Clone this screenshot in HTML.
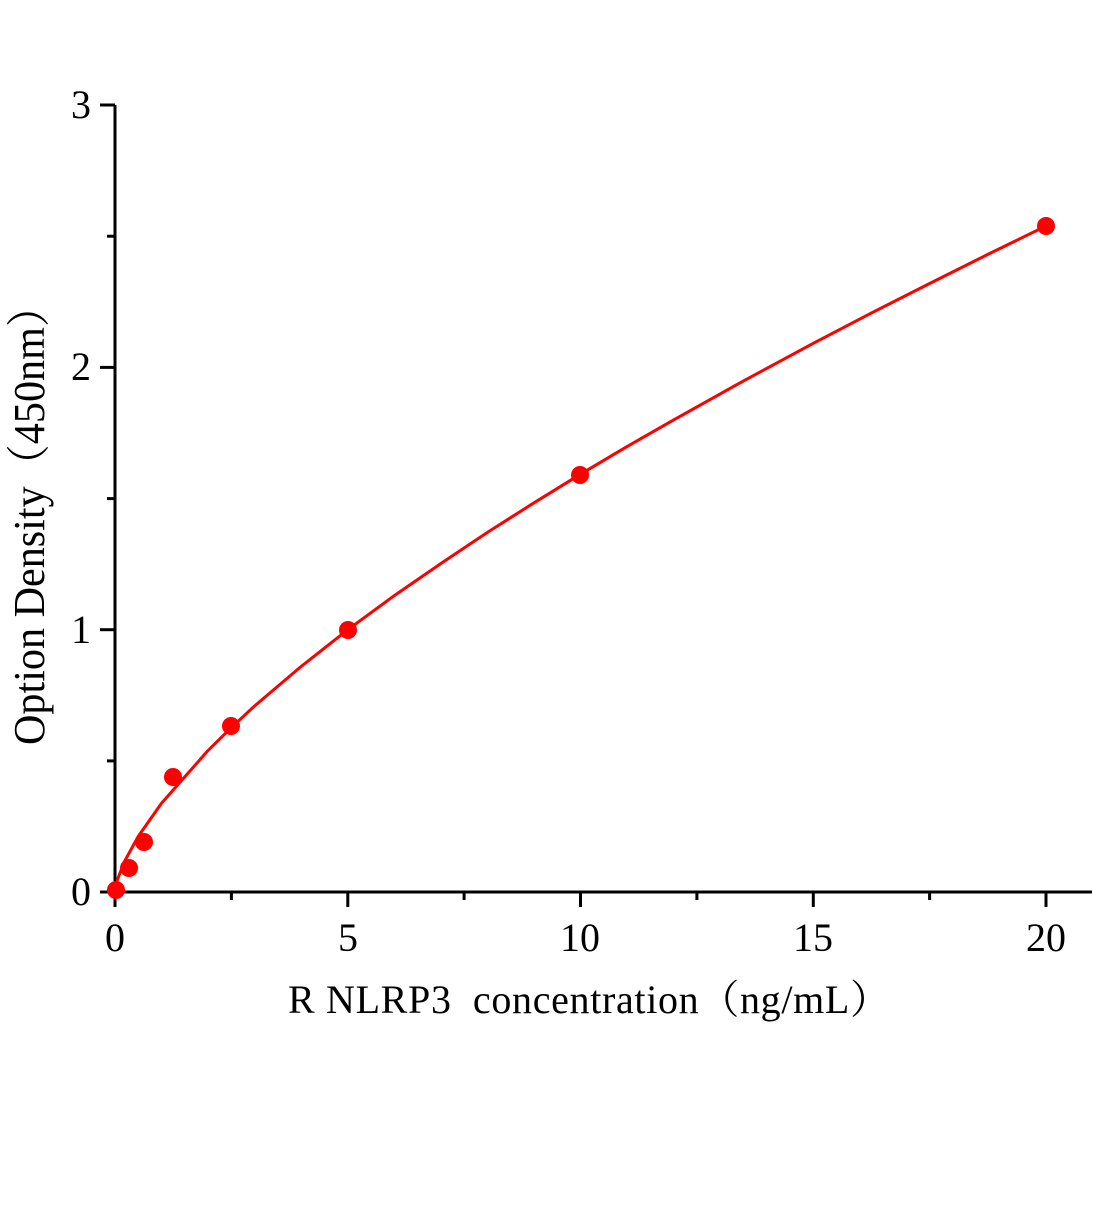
<!DOCTYPE html>
<html><head><meta charset="utf-8"><style>
html,body{margin:0;padding:0;background:#fff;}
svg text{font-family:"Liberation Serif","Noto Serif CJK SC",serif;fill:#000;white-space:pre;}
</style></head><body>
<svg width="1104" height="1200" viewBox="0 0 1104 1200" xmlns="http://www.w3.org/2000/svg">
<g stroke="#000" stroke-width="3" fill="none">
<line x1="115" y1="105" x2="115" y2="893.5"/>
<line x1="113.5" y1="892" x2="1092" y2="892"/>
<line x1="115" y1="892" x2="115" y2="907"/>
<line x1="347.8" y1="892" x2="347.8" y2="907"/>
<line x1="580.5" y1="892" x2="580.5" y2="907"/>
<line x1="813.3" y1="892" x2="813.3" y2="907"/>
<line x1="1046" y1="892" x2="1046" y2="907"/>
<line x1="231.4" y1="892" x2="231.4" y2="900"/>
<line x1="464.1" y1="892" x2="464.1" y2="900"/>
<line x1="696.9" y1="892" x2="696.9" y2="900"/>
<line x1="929.6" y1="892" x2="929.6" y2="900"/>
<line x1="100" y1="892" x2="115" y2="892"/>
<line x1="100" y1="629.7" x2="115" y2="629.7"/>
<line x1="100" y1="367.4" x2="115" y2="367.4"/>
<line x1="100" y1="105" x2="115" y2="105"/>
<line x1="107" y1="760.9" x2="115" y2="760.9"/>
<line x1="107" y1="498.6" x2="115" y2="498.6"/>
<line x1="107" y1="236.2" x2="115" y2="236.2"/>
</g>
<polyline fill="none" stroke="#ff0000" stroke-width="3" stroke-linejoin="round" points="115,892 117.3,880.1 124.3,861.8 138.3,836.2 161.6,803.1 208.1,750.4 231.4,727.5 254.7,705.9 301.2,666.4 347.8,629.7 394.3,595.6 440.9,563.5 487.4,532.4 534,502.8 580.5,474.2 627,446.6 673.6,419.9 743.5,380.9 813.3,343.3 871.5,312.9 929.6,283.5 987.8,254.4 1046,226"/>
<g fill="#ff0000">
<circle cx="116" cy="890" r="9"/>
<circle cx="129" cy="868" r="9"/>
<circle cx="144" cy="842" r="9"/>
<circle cx="173" cy="777" r="9"/>
<circle cx="231" cy="726" r="9"/>
<circle cx="348" cy="630" r="9"/>
<circle cx="580" cy="475" r="9"/>
<circle cx="1046" cy="226" r="9"/>
</g>
<g font-size="40" text-anchor="middle">
<text x="115" y="951">0</text>
<text x="348" y="951">5</text>
<text x="580" y="951">10</text>
<text x="813" y="951">15</text>
<text x="1046" y="951">20</text>
</g>
<g font-size="40" text-anchor="end">
<text x="91" y="905">0</text>
<text x="91" y="643">1</text>
<text x="91" y="380">2</text>
<text x="91" y="118">3</text>
</g>
<text x="589" y="1013" font-size="40" text-anchor="middle" textLength="602" lengthAdjust="spacing">R NLRP3  concentration（ng/mL）</text>
<text transform="translate(44,515) rotate(-90)" font-size="44" text-anchor="middle" textLength="460" lengthAdjust="spacingAndGlyphs">Option Density（450nm）</text>
</svg>
</body></html>
